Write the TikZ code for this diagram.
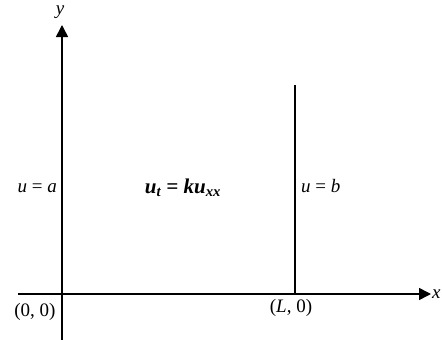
\documentclass[tikz,border=0pt]{standalone}
\usepackage{fontspec}
\setmainfont{Liberation Serif}
\usetikzlibrary{arrows.meta,positioning}

\begin{document}
\begin{tikzpicture}[x=1pt,y=-1pt,
axis/.style={line width=1.6pt,-{Triangle[length=12pt,width=12pt]}},
wall/.style={line width=1.2pt},
lbl/.style={font=\fontsize{19}{22}\selectfont,inner sep=1pt}
]
\useasboundingbox (0,0) rectangle (442,340);
% axes
\coordinate (ybot) at (62,340);
\coordinate (ytop) at (62,25);
\coordinate (xleft) at (18,294);
\coordinate (xright) at (431,294);
\draw[axis] (ybot) -- (ytop);
\draw[axis] (xleft) -- (xright);
\node[lbl] (ylab) at (60,12) {\textit{y}};
\node[lbl,anchor=west,inner sep=0pt] (xlab) at (432,294) {\textit{x}};
% right boundary x = L
\coordinate (wtop) at (295,85);
\coordinate (wbot) at (295,294);
\draw[wall] (wtop) -- (wbot);
% labels
\node[lbl,anchor=east] (left) at (58,188) {\textit{u} = \textit{a}};
\node[lbl,anchor=west] (right) at (300,186) {\textit{u} = \textit{b}};
\node[lbl,font=\fontsize{21}{24}\selectfont] (pde) at (183,188) {\bfseries\itshape u\textsubscript{t} = ku\textsubscript{xx}};
\node[lbl] (origin) at (35,312) {(0, 0)};
\node[lbl] (endpt) at (291,308) {(\textit{L}, 0)};
\end{tikzpicture}
\end{document}
